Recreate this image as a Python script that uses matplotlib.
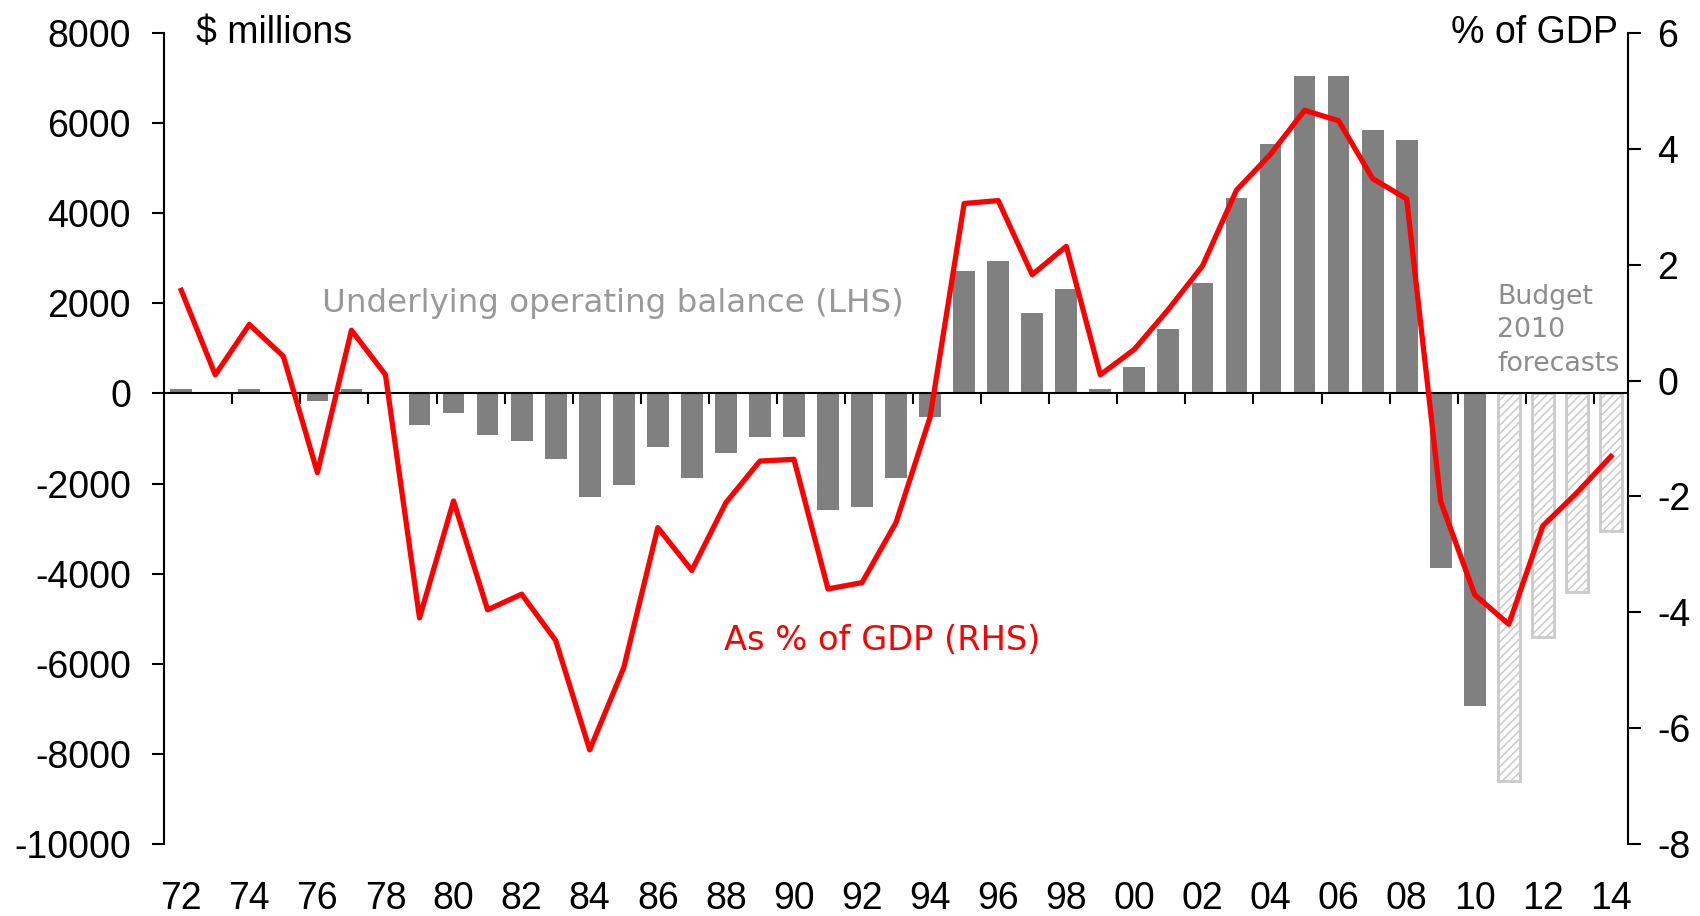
import numpy as np
import matplotlib.pyplot as plt

# fiscal years 1972..2014, shown as two-digit labels
years = [f"{y % 100:02d}" for y in range(1972, 2015)]

# underlying operating balance, $ millions (LHS)
balance = [100, 0, 100, 20, -160, 100, 0, -700, -440, -930, -1060, -1460,
           -2310, -2040, -1200, -1870, -1330, -975, -975, -2580, -2530, -1870,
           -530, 2720, 2940, 1785, 2320, 100, 585, 1430, 2450, 4340, 5540,
           7050, 7050, 5850, 5630, -3870, -6950, -8600, -5400, -4420, -3050]

# balance as % of GDP (RHS)
gdp = [1.56, 0.10, 0.97, 0.42, -1.59, 0.87, 0.10, -4.10, -2.08, -3.96, -3.69,
       -4.49, -6.38, -4.96, -2.54, -3.28, -2.11, -1.39, -1.36, -3.60, -3.49,
       -2.45, -0.63, 3.06, 3.11, 1.83, 2.32, 0.10, 0.54, 1.23, 1.98, 3.29,
       3.91, 4.67, 4.49, 3.49, 3.14, -2.09, -3.70, -4.21, -2.51, -1.94, -1.31]

first_forecast = years.index("11")
forecast_note = ["Budget", "2010", "forecasts"]

plt.rcParams['font.family'] = ['Liberation Sans', 'DejaVu Sans']
plt.rcParams['axes.unicode_minus'] = False
plt.rcParams['hatch.linewidth'] = 1.1

fig = plt.figure(figsize=(17, 9.16), dpi=100)
ax = fig.add_axes([0.0966, 0.0790, 0.861, 0.8846])

x = np.arange(len(years))
ax.bar(x[:first_forecast], balance[:first_forecast], width=0.64,
       color='#808080', zorder=1)
ax.bar(x[first_forecast:], balance[first_forecast:], width=0.64,
       facecolor='white', edgecolor='#cacaca', hatch='////', linewidth=2,
       zorder=1)

ax.set_xlim(-0.5, len(years) - 0.5)
ax.set_ylim(-10000, 8000)
ax.set_yticks(range(-10000, 8001, 2000))

# zero line carries the year-boundary tick marks
ax.spines['bottom'].set_position(('data', 0))
ax.spines['bottom'].set_linewidth(1.5)
ax.spines['left'].set_linewidth(1.5)
ax.spines['top'].set_visible(False)
ax.spines['right'].set_visible(False)
ax.set_xticks(x[1:-1:2] + 0.5)
ax.tick_params(axis='x', labelbottom=False, direction='out', length=8,
               width=1.5)
ax.tick_params(axis='y', direction='out', length=9, width=1.5, pad=15,
               labelsize=27)

# year labels along the bottom of the frame
sec = ax.secondary_xaxis('bottom')
sec.set_ticks(x[::2], labels=years[::2])
sec.tick_params(length=0, pad=27, labelsize=27)
sec.spines['bottom'].set_visible(False)

ax2 = ax.twinx()
ax2.plot(x, gdp, color='#ff0000', lw=3.8)
ax2.set_ylim(-8, 6)
ax2.set_yticks(range(-8, 7, 2))
for s in ['top', 'left', 'bottom']:
    ax2.spines[s].set_visible(False)
ax2.spines['right'].set_linewidth(1.5)
ax2.tick_params(axis='y', direction='out', length=9, width=1.5, pad=12,
                labelsize=27)

fig.text(0.1153, 0.9534, "$ millions", fontsize=27, va='baseline')
fig.text(0.9518, 0.9534, "% of GDP", fontsize=27, va='baseline', ha='right')

fig.text(0.1894, 0.6597, "Underlying operating balance (LHS)",
         family='DejaVu Sans', fontsize=23.4, color='#999999', va='baseline')
fig.text(0.4259, 0.2904, "As % of GDP (RHS)", family='DejaVu Sans',
         fontsize=24.2, color='#ff0000', va='baseline')
for i, line in enumerate(forecast_note):
    fig.text(0.8806, 1 - (304 + 33.5 * i) / 916, line, family='DejaVu Sans',
             fontsize=19.3, color='#8c8c8c', va='baseline')

fig.savefig("out.png", dpi=100)
